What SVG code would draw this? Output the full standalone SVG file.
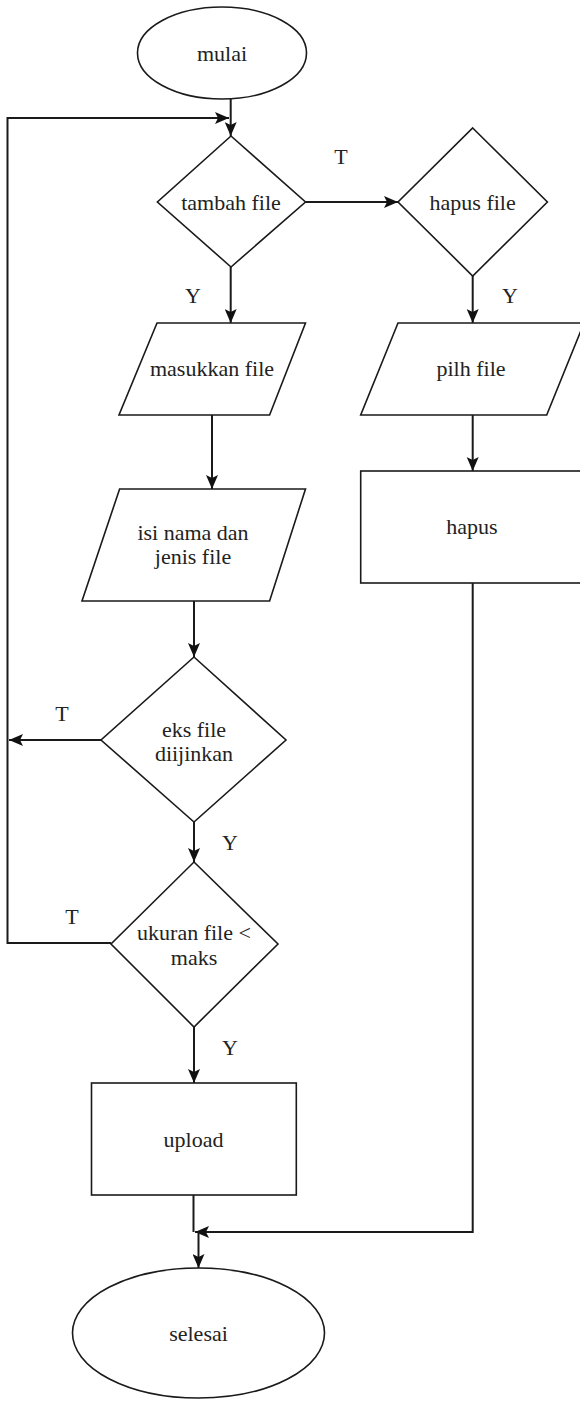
<svg xmlns="http://www.w3.org/2000/svg" width="580" height="1401" viewBox="0 0 580 1401">
<style>
.s{fill:#fff;stroke:#1a1a1a;stroke-width:1.6}
.c{fill:none;stroke:#1a1a1a;stroke-width:2}
.t{font-family:'Liberation Serif','DejaVu Serif','Noto Serif',serif;font-size:22px;fill:#222;text-anchor:middle}
</style>
<defs>
<marker id="ah" viewBox="0 0 14 12" refX="14" refY="6" markerWidth="14" markerHeight="12" markerUnits="userSpaceOnUse" orient="auto">
<path d="M0,0 L14,6 L0,12 L3,6 Z" fill="#111"/>
</marker>
</defs>
<rect width="580" height="1401" fill="#fff"/>
<g id="connectors">
<path class="c" d="M230.7,99 V136" marker-end="url(#ah)"/>
<path class="c" d="M111,943 H7.5 V118 H229" marker-end="url(#ah)"/>
<path class="c" d="M305.5,202 H398" marker-end="url(#ah)"/>
<path class="c" d="M230.7,267 V323" marker-end="url(#ah)"/>
<path class="c" d="M472.7,276 V323" marker-end="url(#ah)"/>
<path class="c" d="M212,415 V489" marker-end="url(#ah)"/>
<path class="c" d="M472.7,415 V471" marker-end="url(#ah)"/>
<path class="c" d="M194,601 V657" marker-end="url(#ah)"/>
<path class="c" d="M101,740 H9" marker-end="url(#ah)"/>
<path class="c" d="M194,822 V862" marker-end="url(#ah)"/>
<path class="c" d="M194,1027 V1083" marker-end="url(#ah)"/>
<path class="c" d="M193.5,1195 V1232"/>
<path class="c" d="M472.7,583 V1232 H195" marker-end="url(#ah)"/>
<path class="c" d="M198.5,1232 V1268" marker-end="url(#ah)"/>
<g font-family="Liberation Serif, serif">
<text class="t" x="341" y="164">T</text>
<text class="t" x="193" y="303">Y</text>
<text class="t" x="510" y="303">Y</text>
<text class="t" x="62" y="721">T</text>
<text class="t" x="230" y="850">Y</text>
<text class="t" x="72" y="924">T</text>
<text class="t" x="230" y="1055">Y</text>
</g>
</g>
<g id="mulai">
<ellipse class="s" cx="222" cy="53" rx="84.5" ry="46"/>
<text class="t" x="222" y="61">mulai</text>
</g>
<g id="tambah">
<polygon class="s" points="231,136 305.5,202 231,267 157.4,202"/>
<text class="t" x="231" y="210">tambah file</text>
</g>
<g id="hapusfile">
<polygon class="s" points="472.7,128 547.4,202 472.7,276 398,202"/>
<text class="t" x="472.7" y="210">hapus file</text>
</g>
<g id="masukkan">
<polygon class="s" points="157,323 305.5,323 269.6,415 119,415"/>
<text class="t" x="212" y="376">masukkan file</text>
</g>
<g id="pilh">
<polygon class="s" points="398,323 584,323 546.7,415 360.7,415"/>
<text class="t" x="471" y="376">pilh file</text>
</g>
<g id="hapus">
<rect class="s" x="360.7" y="471" width="230" height="112"/>
<text class="t" x="472" y="534">hapus</text>
</g>
<g id="isinama">
<polygon class="s" points="119.6,489 305.5,489 269.6,601 82,601"/>
<text class="t" x="193" y="540">isi nama dan</text>
<text class="t" x="193" y="564">jenis file</text>
</g>
<g id="eks">
<polygon class="s" points="194,657 286,740 194,822 101,740"/>
<text class="t" x="194" y="737">eks file</text>
<text class="t" x="194" y="761">diijinkan</text>
</g>
<g id="ukuran">
<polygon class="s" points="194,862 278,944 194,1027 111,944"/>
<text class="t" x="194" y="940">ukuran file &lt;</text>
<text class="t" x="194" y="965">maks</text>
</g>
<g id="upload">
<rect class="s" x="91.5" y="1083" width="204.8" height="112"/>
<text class="t" x="193.5" y="1147">upload</text>
</g>
<g id="selesai">
<ellipse class="s" cx="198.5" cy="1333" rx="126" ry="65"/>
<text class="t" x="198.5" y="1341">selesai</text>
</g>
</svg>
